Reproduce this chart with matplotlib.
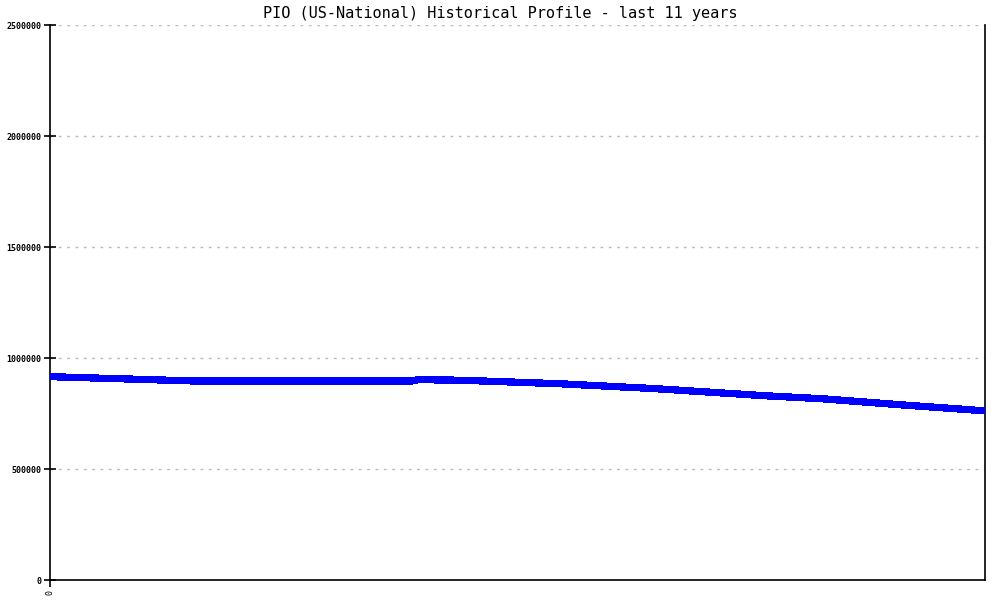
import matplotlib
matplotlib.use("Agg")
import matplotlib.pyplot as plt

# monthly index over the last 11 years, and the profile value at that month
months = [0, 21, 51, 52, 58, 72, 85.5, 101, 109, 120, 132]
values = [916000, 896000, 896000, 902500, 900000, 884000, 862000, 830000, 816500, 789500, 762000]

y_ticks = [0, 500000, 1000000, 1500000, 2000000, 2500000]
title = "PIO (US-National) Historical Profile - last 11 years"

fig = plt.figure(figsize=(10, 6), dpi=100)
ax = fig.add_axes([0.05, 0.0333, 0.935, 0.925])

ax.plot(months, values, color="#0000ff", linewidth=4.5, solid_joinstyle="miter",
        solid_capstyle="butt", antialiased=False, zorder=3)

ax.set_xlim(0, 132)
ax.set_ylim(0, 2500000)
ax.set_yticks(y_ticks)
ax.set_yticklabels([str(v) for v in y_ticks], family="DejaVu Sans Mono", fontsize=6, fontweight="bold")
ax.set_xticks([0])
ax.set_xticklabels(["0"], family="DejaVu Sans Mono", fontsize=6, rotation=90)

ax.grid(axis="y", color="#bbbbbb", linestyle=(0, (2, 4)), linewidth=1)
ax.set_axisbelow(True)
ax.spines["top"].set_visible(False)
for side in ["left", "bottom", "right"]:
    ax.spines[side].set_color("black")
    ax.spines[side].set_linewidth(1.2)
ax.tick_params(axis="y", direction="inout", length=8, width=1.2, pad=2)
ax.tick_params(axis="x", direction="out", length=5, width=1.2, pad=2)

fig.text(0.5, 0.978, title, ha="center", va="center", family="DejaVu Sans Mono",
         fontsize=11)

fig.savefig("out.png", dpi=100, facecolor="white")
